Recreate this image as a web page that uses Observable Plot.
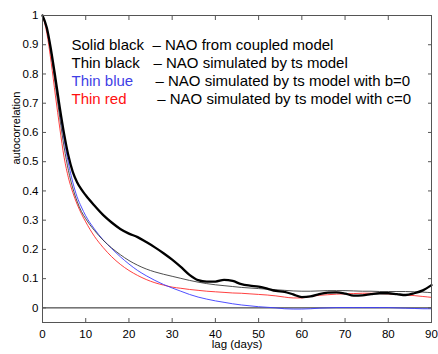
<!DOCTYPE html>
<html><head><meta charset="utf-8">
<script src="https://cdn.jsdelivr.net/npm/d3@7"></script>
<script src="https://cdn.jsdelivr.net/npm/@observablehq/plot@0.6"></script>
<style>body{margin:0;background:#fff}#chart svg{display:block}</style>
</head><body><div id="chart"></div>
<script>
const lags = [0,1,2,3,4,5,6,7,8,9,10,12,14,16,18,20,22,24,26,28,30,32,34,36,38,40,42,44,46,48,50,52,54,56,58,60,62,64,66,68,70,72,74,76,78,80,82,84,86,88,90];
const coupled = [1,0.958,0.88,0.785,0.685,0.595,0.52,0.465,0.43,0.405,0.385,0.35,0.318,0.292,0.27,0.254,0.242,0.225,0.207,0.187,0.165,0.14,0.113,0.095,0.09,0.09,0.096,0.092,0.081,0.076,0.073,0.066,0.058,0.055,0.046,0.037,0.039,0.047,0.052,0.053,0.049,0.042,0.043,0.047,0.05,0.05,0.047,0.044,0.05,0.06,0.078];
const tsModel = [1,0.952,0.865,0.76,0.65,0.55,0.47,0.41,0.365,0.33,0.305,0.265,0.232,0.205,0.182,0.162,0.146,0.133,0.123,0.115,0.108,0.101,0.094,0.088,0.083,0.079,0.076,0.073,0.07,0.068,0.066,0.064,0.062,0.06,0.058,0.057,0.057,0.058,0.059,0.059,0.059,0.058,0.057,0.057,0.056,0.056,0.056,0.056,0.055,0.054,0.052];
const tsNoB = [1,0.956,0.875,0.775,0.67,0.575,0.495,0.43,0.38,0.345,0.315,0.27,0.233,0.203,0.175,0.15,0.128,0.11,0.094,0.08,0.068,0.057,0.046,0.037,0.03,0.024,0.019,0.014,0.01,0.007,0.004,0.002,0,-0.003,-0.004,-0.004,-0.003,-0.001,0,0.001,0.001,0.001,0.001,0.001,0.001,0.001,0,-0.001,-0.002,-0.003,-0.003];
const tsNoC = [1,0.94,0.84,0.725,0.615,0.515,0.445,0.395,0.355,0.322,0.294,0.245,0.207,0.175,0.149,0.128,0.111,0.097,0.086,0.078,0.071,0.067,0.063,0.06,0.057,0.055,0.053,0.051,0.05,0.048,0.046,0.044,0.041,0.037,0.034,0.034,0.039,0.043,0.045,0.047,0.048,0.049,0.05,0.05,0.049,0.048,0.046,0.044,0.042,0.039,0.036];
const xTicks = [0,10,20,30,40,50,60,70,80,90];
const yTicks = [0,0.1,0.2,0.3,0.4,0.5,0.6,0.7,0.8,0.9,1];
const yTickLabels = ["0","0.1","0.2","0.3","0.4","0.5","0.6","0.7","0.8","0.9","1"];
const legendLabels = ["Solid black","Thin black","Thin blue","Thin red"];
const legendTexts = ["\u2013 NAO from coupled model","\u2013 NAO simulated by ts model","\u2013 NAO simulated by ts model with b=0","\u2013 NAO simulated by ts model with c=0"];
const xLabel = "lag (days)";
const yLabel = "autocorrelation";

const toRows = vals => lags.map((l, i) => ({lag: l, r: vals[i]}));
const legendColors = ["#000","#000","#3f3fe6","#ff1010"];
const dashDx = [110, 111, 113, 114.7];

const marks = [
  Plot.ruleY([0], {stroke: "#222", strokeWidth: 1}),
  Plot.line(toRows(tsNoC), {x: "lag", y: "r", stroke: "#ff2a2a", strokeWidth: 0.9, curve: "monotone-x"}),
  Plot.line(toRows(tsNoB), {x: "lag", y: "r", stroke: "#3b3bff", strokeWidth: 0.9, curve: "monotone-x"}),
  Plot.line(toRows(tsModel), {x: "lag", y: "r", stroke: "#3a3a3a", strokeWidth: 0.9, curve: "monotone-x"}),
  Plot.line(toRows(coupled), {x: "lag", y: "r", stroke: "#000", strokeWidth: 2.3, curve: "monotone-x"}),
  Plot.frame({stroke: "#555", strokeWidth: 1}),
  Plot.axisX({anchor: "bottom", ticks: xTicks, tickSize: 0, tickPadding: 7, fontSize: 11.5, fill: "#000"}),
  Plot.axisX({anchor: "bottom", ticks: xTicks, tickSize: 4, text: null, dy: -4, stroke: "#555"}),
  Plot.axisX({anchor: "top", ticks: xTicks, tickSize: 4, text: null, dy: 4, stroke: "#555"}),
  Plot.axisY({anchor: "left", ticks: yTicks, tickSize: 0, tickPadding: 4, fontSize: 11.5, fill: "#000", tickFormat: (d, i) => yTickLabels[i]}),
  Plot.axisY({anchor: "left", ticks: yTicks, tickSize: 4, text: null, dx: 4, stroke: "#555"}),
  Plot.axisY({anchor: "right", ticks: yTicks, tickSize: 4, text: null, dx: -4, stroke: "#555"}),
  Plot.text([xLabel], {text: d => d, frameAnchor: "bottom", lineAnchor: "middle", dy: 22.3, fontSize: 11.5, fill: "#000"}),
  Plot.text([yLabel], {text: d => d, frameAnchor: "left", lineAnchor: "middle", dx: -26, dy: -4.5, rotate: -90, fontSize: 11, fill: "#000"})
];
legendLabels.forEach((lab, i) => {
  marks.push(Plot.text([lab], {text: d => d, frameAnchor: "top-left", lineAnchor: "middle", textAnchor: "start", dx: 29, dy: 30 + 18 * i, fontSize: 15, fill: legendColors[i]}));
  marks.push(Plot.text([legendTexts[i]], {text: d => d, frameAnchor: "top-left", lineAnchor: "middle", textAnchor: "start", dx: dashDx[i], dy: 30 + 18 * i, fontSize: 15, fill: "#000"}));
});

const chart = Plot.plot({
  width: 438,
  height: 354,
  marginLeft: 42,
  marginRight: 7,
  marginTop: 15,
  marginBottom: 32,
  style: {fontFamily: "'Liberation Sans', Arial, sans-serif", background: "#fff", color: "#000"},
  x: {domain: [0, 90], label: null},
  y: {domain: [-0.05, 1], label: null},
  marks
});
document.getElementById("chart").appendChild(chart);
</script>
</body></html>
